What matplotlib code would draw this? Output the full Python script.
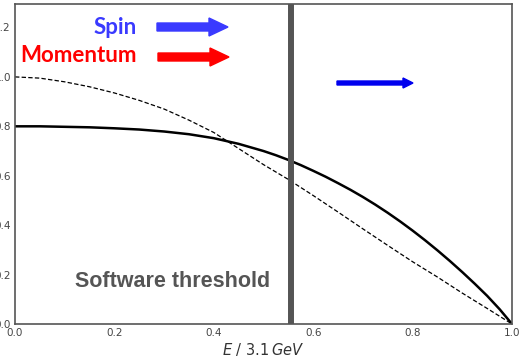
import numpy as np
import matplotlib
matplotlib.use("Agg")
import matplotlib.pyplot as plt
from matplotlib.patches import FancyArrow

# energy fraction E / 3.1 GeV, dashed curve
energy_d = [0.0, 0.05, 0.1, 0.15, 0.2, 0.25, 0.3, 0.35, 0.4, 0.45, 0.5,
            0.55, 0.6, 0.65, 0.7, 0.75, 0.8, 0.85, 0.9, 0.95, 1.0]
dashed_vals = [1.0, 0.995, 0.98, 0.96, 0.935, 0.905, 0.87, 0.825, 0.775, 0.71, 0.645,
               0.585, 0.52, 0.453, 0.385, 0.318, 0.252, 0.19, 0.125, 0.063, 0.0]
# solid curve
energy_s = [0.0, 0.05, 0.1, 0.15, 0.2, 0.25, 0.3, 0.35, 0.4, 0.45, 0.5,
            0.525, 0.55, 0.575, 0.6, 0.625, 0.65, 0.675, 0.7, 0.725, 0.75,
            0.775, 0.8, 0.825, 0.85, 0.875, 0.9, 0.925, 0.95, 0.975, 1.0]
solid_vals = [0.8, 0.8, 0.798, 0.796, 0.792, 0.787, 0.779, 0.768, 0.752, 0.729, 0.700,
              0.683, 0.664, 0.643, 0.620, 0.596, 0.570, 0.543, 0.514, 0.483, 0.450,
              0.415, 0.378, 0.339, 0.298, 0.255, 0.210, 0.163, 0.114, 0.060, 0.0]
threshold = 0.555
xticks = [0.0, 0.2, 0.4, 0.6, 0.8, 1.0]
yticks = [0.0, 0.2, 0.4, 0.6, 0.8, 1.0, 1.2]

W, H = 520, 360
fig = plt.figure(figsize=(W / 100, H / 100), dpi=100)
ax = fig.add_axes([15 / W, 1 - 324 / H, (512 - 15) / W, (324 - 4) / H])

ax.plot(energy_s, solid_vals, color="black", lw=1.8)
ax.plot(energy_d, dashed_vals, color="black", lw=0.9, linestyle=(0, (3.5, 1.8)))
ax.axvline(threshold, ymin=0.006, ymax=0.99, color="#555555", lw=4.3)

ax.set_xlim(0, 1)
ax.set_ylim(0, 1.295)
ax.set_xticks(xticks)
ax.set_yticks(yticks)
ax.set_xticklabels(["%.1f" % t for t in xticks])
ax.set_yticklabels(["%.1f" % t for t in yticks])
ax.tick_params(length=0, labelsize=7.5, labelcolor="#444444", pad=3)
for s in ax.spines.values():
    s.set_color("#555555")
    s.set_linewidth(1.2)

ax.set_xlabel(r"$E$ / 3.1$\,GeV$", fontsize=10.5, color="#333333", labelpad=2)

ax.text(0.12, 0.17, "Software threshold", fontsize=15.5, fontweight="bold",
        color="#555555", family="Liberation Sans", va="center", ha="left")

# legend-like labels with arrows
fig.text(137 / W, 1 - 27 / H, "Spin", fontsize=16, fontweight="bold", color="#3a3aff",
         family="Lato", ha="right", va="center")
fig.text(137 / W, 1 - 56 / H, "Momentum", fontsize=16, fontweight="bold", color="#ff0000",
         family="Lato", ha="right", va="center")

def arrow(x0, x1, y, shaft, head_w, head_l, color):
    fig.patches.append(FancyArrow(x0 / W, 1 - y / H, (x1 - x0) / W, 0,
                                  width=shaft / H, head_width=head_w / H,
                                  head_length=head_l / W, length_includes_head=True,
                                  color=color, transform=fig.transFigure, figure=fig))

arrow(157, 228, 27, 8, 18, 19, "#3a3aff")
arrow(158, 229, 57, 8, 18, 19, "#ff0000")
arrow(337, 413, 83, 4, 10, 10, "#0000ee")

fig.savefig("out.png", dpi=100)
